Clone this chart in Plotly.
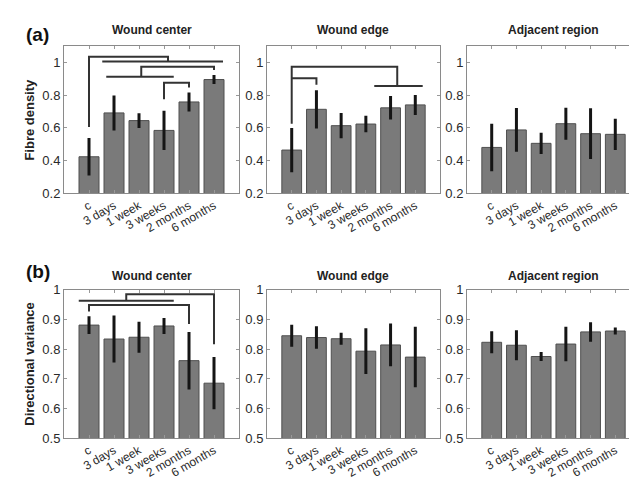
import plotly.graph_objects as go

categories = ["c", "3 days", "1 week", "3 weeks", "2 months", "6 months"]
titles = ["Wound center", "Wound edge", "Adjacent region"]

# (a) Fibre density
fd_center = [0.423, 0.691, 0.644, 0.584, 0.758, 0.895]
fd_center_err = [0.115, 0.107, 0.045, 0.120, 0.058, 0.027]
fd_edge = [0.464, 0.713, 0.613, 0.623, 0.722, 0.740]
fd_edge_err = [0.135, 0.117, 0.077, 0.050, 0.072, 0.061]
fd_adj = [0.480, 0.587, 0.505, 0.625, 0.564, 0.560]
fd_adj_err = [0.145, 0.134, 0.065, 0.098, 0.155, 0.096]

# (b) Directional variance
dv_center = [0.881, 0.834, 0.840, 0.878, 0.761, 0.685]
dv_center_err = [0.030, 0.079, 0.052, 0.027, 0.097, 0.088]
dv_edge = [0.845, 0.839, 0.835, 0.793, 0.814, 0.773]
dv_edge_err = [0.037, 0.038, 0.020, 0.077, 0.072, 0.102]
dv_adj = [0.823, 0.813, 0.775, 0.817, 0.858, 0.861]
dv_adj_err = [0.037, 0.051, 0.015, 0.058, 0.033, 0.012]

top_ticks = [0.2, 0.4, 0.6, 0.8, 1.0]
top_ticktext = ["0.2", "0.4", "0.6", "0.8", "1"]
bot_ticks = [0.5, 0.6, 0.7, 0.8, 0.9, 1.0]
bot_ticktext = ["0.5", "0.6", "0.7", "0.8", "0.9", "1"]

# significance brackets (category index, value) polylines per panel
brackets_a_center = [
    [(0, 0.605), (0, 1.034), (3.16, 1.034), (3.16, 1.006)],
    [(0.53, 1.006), (5.36, 1.006)],
    [(2.09, 0.912), (2.09, 0.973), (5, 0.973), (5, 0.953)],
    [(0.69, 0.912), (3.39, 0.912)],
    [(3, 0.775), (3, 0.875), (4, 0.875), (4, 0.846)],
]
brackets_a_edge = [
    [(0, 0.625), (0, 0.973), (4.27, 0.973), (4.27, 0.856)],
    [(3.34, 0.856), (5.3, 0.856)],
    [(0, 0.903), (1, 0.903), (1, 0.863)],
]
brackets_b_center = [
    [(-0.41, 0.963), (3.39, 0.963)],
    [(1.49, 0.963), (1.49, 0.985), (5, 0.985), (5, 0.816)],
    [(0, 0.927), (0, 0.949), (4, 0.949), (4, 0.885)],
]

panels = [
    (fd_center, fd_center_err, brackets_a_center),
    (fd_edge, fd_edge_err, brackets_a_edge),
    (fd_adj, fd_adj_err, []),
    (dv_center, dv_center_err, brackets_b_center),
    (dv_edge, dv_edge_err, []),
    (dv_adj, dv_adj_err, []),
]

W, H = 637, 479
xdoms = [(56 / W, 231 / W), (259 / W, 432 / W), (459 / W, 632 / W)]
ydoms = [(1 - 184 / H, 1 - 32 / H), (1 - 436.7 / H, 1 - 283.7 / H)]

FONT = "Liberation Sans, Arial, sans-serif"
fig = go.Figure()
xpos = list(range(len(categories)))

layout = dict(
    width=W, height=H, margin=dict(l=0, r=0, t=0, b=0),
    paper_bgcolor="white", plot_bgcolor="white", showlegend=False,
    font=dict(family=FONT, color="#222222"),
    bargap=0.2,
)
annotations = []
for i, (vals, errs, brs) in enumerate(panels):
    n = i + 1
    row, col = divmod(i, 3)
    xa = "x" if n == 1 else f"x{n}"
    ya = "y" if n == 1 else f"y{n}"
    fig.add_trace(go.Bar(
        x=xpos, y=vals, xaxis=xa, yaxis=ya, width=0.8,
        marker=dict(color="#7a7a7a", line=dict(color="#4f4f4f", width=1)),
        error_y=dict(type="data", array=errs, visible=True, thickness=3,
                     width=0, color="#151515"),
        hoverinfo="skip",
    ))
    for br in brs:
        fig.add_trace(go.Scatter(
            x=[p[0] for p in br], y=[p[1] for p in br], xaxis=xa, yaxis=ya,
            mode="lines", line=dict(color="#333333", width=2),
            hoverinfo="skip",
        ))
    xkey = "xaxis" if n == 1 else f"xaxis{n}"
    ykey = "yaxis" if n == 1 else f"yaxis{n}"
    layout[xkey] = dict(
        domain=xdoms[col], anchor=ya, range=[-1, 6],
        tickvals=xpos, ticktext=categories, tickangle=-30,
        tickfont=dict(size=12, family=FONT, color="#2a2a2a"),
        showline=True, linecolor="#8a8a8a", linewidth=1, mirror="ticks",
        ticks="inside", ticklen=3, tickcolor="#999999",
        showgrid=False, zeroline=False,
    )
    if row == 0:
        yr, tv, tt = [0.2, 1.1], top_ticks, top_ticktext
    else:
        yr, tv, tt = [0.5, 1.0], bot_ticks, bot_ticktext
    layout[ykey] = dict(
        domain=ydoms[row], anchor=xa, range=yr, tickvals=tv, ticktext=tt,
        tickfont=dict(size=13, family=FONT, color="#2a2a2a"),
        showline=True, linecolor="#8a8a8a", linewidth=1, mirror="ticks",
        ticks="inside", ticklen=3, tickcolor="#999999",
        showgrid=False, zeroline=False,
    )
    cx = (xdoms[col][0] + xdoms[col][1]) / 2
    ty = 1 - 15 / H if row == 0 else 1 - 269 / H
    annotations.append(dict(
        text=f"<b>{titles[col]}</b>", x=cx, y=ty, xref="paper", yref="paper",
        showarrow=False, xanchor="center", yanchor="middle",
        font=dict(size=12, family=FONT, color="#222"),
    ))

annotations.append(dict(text="<b>(a)</b>", x=29 / W, y=1 - 20 / H, xref="paper",
                        yref="paper", showarrow=False, xanchor="center",
                        yanchor="middle", font=dict(size=19, family=FONT, color="#111")))
annotations.append(dict(text="<b>(b)</b>", x=30 / W, y=1 - 265 / H, xref="paper",
                        yref="paper", showarrow=False, xanchor="center",
                        yanchor="middle", font=dict(size=19, family=FONT, color="#111")))
annotations.append(dict(text="<b>Fibre density</b>", x=22 / W, y=1 - 108 / H,
                        xref="paper", yref="paper", showarrow=False, textangle=-90,
                        xanchor="center", yanchor="middle",
                        font=dict(size=13, family=FONT, color="#222")))
annotations.append(dict(text="<b>Directional variance</b>", x=22 / W, y=1 - 360 / H,
                        xref="paper", yref="paper", showarrow=False, textangle=-90,
                        xanchor="center", yanchor="middle",
                        font=dict(size=13, family=FONT, color="#222")))
layout["annotations"] = annotations
fig.update_layout(**layout)
fig.write_html("out.html")
